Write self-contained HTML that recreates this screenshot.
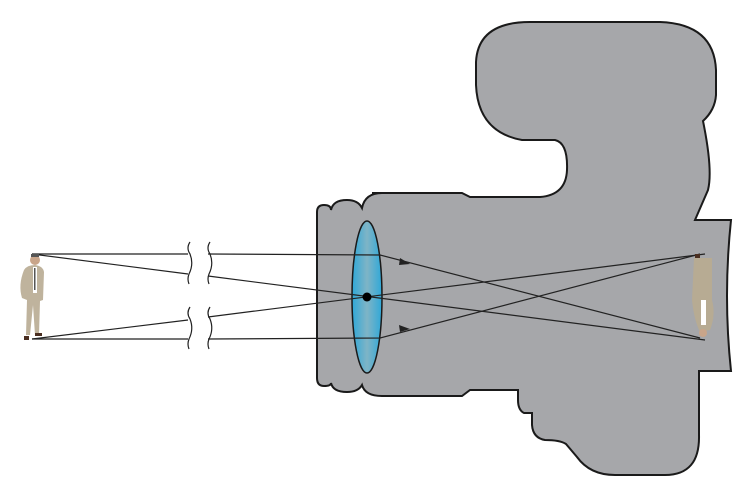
<!DOCTYPE html>
<html><head><style>body{margin:0;background:#fff}svg{display:block}</style></head><body>
<svg width="750" height="500" viewBox="0 0 750 500" xmlns="http://www.w3.org/2000/svg">
<defs>
<linearGradient id="lg" x1="0" x2="1"><stop offset="0" stop-color="#2fa8d8"/><stop offset="0.5" stop-color="#7fb4c6"/><stop offset="1" stop-color="#2fa8d8"/></linearGradient>
</defs>
<path d="M372 193 L462 193 L470 197 L540 197 Q566 195 567 170 Q568 143 555 140 L522 140 Q478 132 476 85 L476 62 Q478 22 530 22 L660 22 Q714 24 716 70 L716 95 Q715 110 703 121 Q713 170 708 190 L695 220 L731 220 Q723 296 731 371 L699 371 L699 435 Q700 475 665 475 L615 475 Q590 475 577 457 L566 444 Q560 440 545 440 Q533 438 532 425 L532 413 L524 413 Q518 410 518 400 L518 390 L470 390 L462 396 L382 396 Q365 396 362 385 Q358 392 347 392 Q333 392 331 383 Q331 386 324 386 Q317 386 317 378 L317 212 Q317 205 324 205 Q331 205 331 210 Q333 200 347 200 Q358 200 362 208 Q365 193 382 193 Z" fill="#a6a7aa" stroke="#1a1a1a" stroke-width="2"/>
<ellipse cx="367" cy="297" rx="15" ry="76" fill="url(#lg)" stroke="#1a1a1a" stroke-width="1.5"/>
<g stroke="#222" stroke-width="1.2" fill="none">
<path d="M32 254 L188 254 M208 254 L380 255 L700 338"/>
<path d="M32 254 L188 274 M208 276 L705 340"/>
<path d="M32 339 L188 320 M208 317 L705 254"/>
<path d="M32 339 L188 339 M208 339 L380 338 L700 254"/>
<path d="M190 242 q-4 6 0 12 q4 10 -1 20 q-2 5 0 10 M210 242 q-4 6 0 12 q4 10 -1 20 q-2 5 0 10"/>
<path d="M190 307 q-4 6 0 12 q4 10 -1 20 q-2 5 0 10 M210 307 q-4 6 0 12 q4 10 -1 20 q-2 5 0 10"/>
</g>
<polygon points="410,264 400,258 399,265" fill="#222"/>
<polygon points="410,329 399,325 400,332" fill="#222"/>
<circle cx="367" cy="297" r="4.5" fill="#000"/>
<!-- person left -->
<g>
<circle cx="35" cy="260" r="5" fill="#c9a58a"/>
<rect x="31" y="254" width="8" height="3" fill="#555"/>
<path d="M24 270 Q27 265 35 265 Q43 266 44 272 L43 300 L40 301 L39 335 L35 335 L33 305 L30 335 L26 335 L27 300 L22 298 Q18 285 24 270Z" fill="#bfb39d"/>
<rect x="33" y="267" width="4" height="26" fill="#fff"/>
<rect x="34" y="268" width="1.5" height="22" fill="#555"/>
<rect x="24" y="336" width="5" height="4" fill="#4a2e20"/><rect x="35" y="333" width="7" height="3" fill="#4a2e20"/>
</g>
<!-- inverted person right -->
<g>
<path d="M694 258 L712 258 L712 300 Q716 315 710 330 L700 332 Q694 320 692 300 Z" fill="#b7ab93"/>
<rect x="701" y="300" width="5" height="25" fill="#fff"/>
<circle cx="703" cy="333" r="4" fill="#c9a58a"/>
<rect x="695" y="254" width="5" height="4" fill="#4a2e20"/>
</g>
</svg>
</body></html>
